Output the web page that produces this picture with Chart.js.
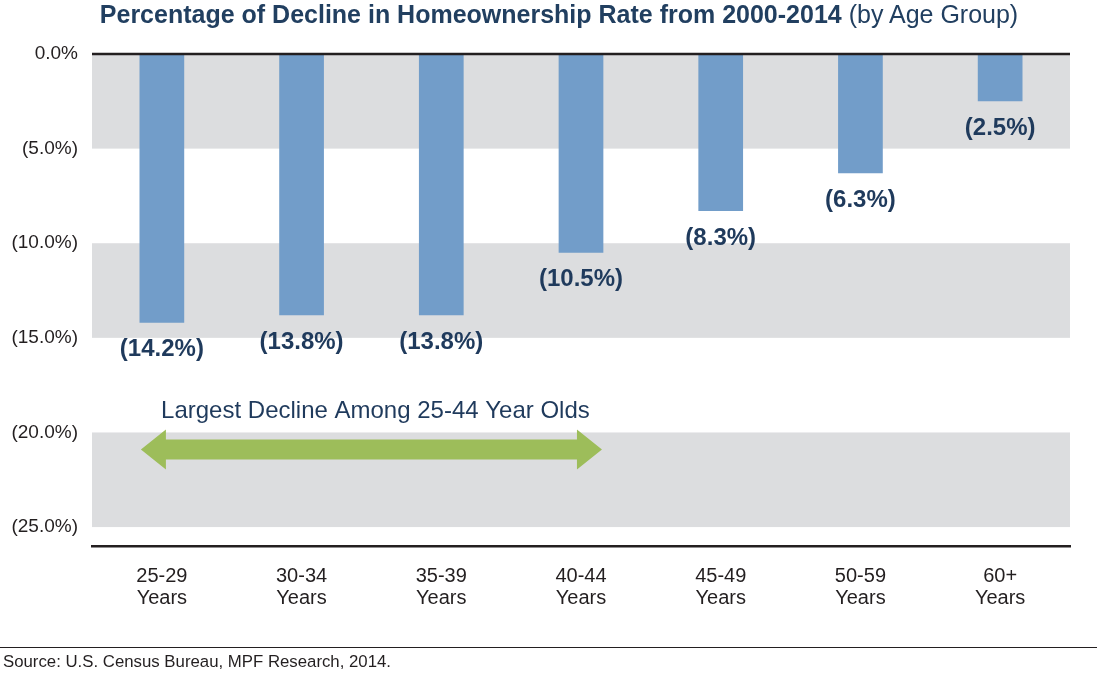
<!DOCTYPE html>
<html>
<head>
<meta charset="utf-8">
<script src="https://cdn.jsdelivr.net/npm/chart.js@4.4.1/dist/chart.umd.min.js"></script>
<style>
  html, body { margin: 0; padding: 0; background: #fff; }
  body { width: 1099px; height: 673px; position: relative; overflow: hidden;
         font-family: "Liberation Sans", Arial, Helvetica, sans-serif; }
  #title { position: absolute; top: -1px; left: 0; width: 1099px; padding-left: 19px; box-sizing: border-box;
           text-align: center; line-height: 30px; font-size: 25px; color: #213f60; white-space: nowrap; }
  #title b { font-weight: bold; }
  #title span { font-weight: normal; }
  #rule { position: absolute; left: 0; top: 647px; width: 1097px; height: 0; border-top: 1.5px solid #231f20; }
  #source { position: absolute; left: 3px; top: 652px; font-size: 16.8px; color: #231f20; line-height: 20px; }
  #wrap { position: absolute; left: 0; top: 0; width: 1099px; height: 673px; }
</style>
</head>
<body>
<div id="wrap"><canvas id="declineChart" width="1099" height="673"></canvas></div>
<div id="title"><b>Percentage of Decline in Homeownership Rate from 2000-2014</b><span> (by Age Group)</span></div>
<div id="rule"></div>
<div id="source">Source: U.S. Census Bureau, MPF Research, 2014.</div>

<script>
// ==================== DATA ====================
const ageGroups = [
  ["25-29", "Years"], ["30-34", "Years"], ["35-39", "Years"], ["40-44", "Years"],
  ["45-49", "Years"], ["50-59", "Years"], ["60+", "Years"]
];
const declines = [-14.2, -13.8, -13.8, -10.5, -8.3, -6.3, -2.5];
const yTicks = [0, -5, -10, -15, -20, -25];
const bands = [[0, -5], [-10, -15], [-20, -25]];
const noteText = "Largest Decline Among 25-44 Year Olds";

const FONT = '"Liberation Sans", Arial, Helvetica, sans-serif';

function fmtPct(v) {
  if (v === 0) return "0.0%";
  return "(" + Math.abs(v).toFixed(1) + "%)";
}

// gray bands behind the bars
const bandPlugin = {
  id: "bands",
  beforeDatasetsDraw(chart) {
    const { ctx, chartArea, scales } = chart;
    ctx.save();
    ctx.fillStyle = "#dcdddf";
    bands.forEach(b => {
      const y1 = scales.y.getPixelForValue(b[0]);
      const y2 = scales.y.getPixelForValue(b[1]);
      ctx.fillRect(chartArea.left, y1, chartArea.right - chartArea.left, y2 - y1);
    });
    ctx.restore();
  }
};

// zero line, value labels, arrow note
const overlayPlugin = {
  id: "overlay",
  afterDatasetsDraw(chart) {
    const { ctx, chartArea, scales } = chart;
    const y0 = scales.y.getPixelForValue(0);
    ctx.save();
    ctx.strokeStyle = "#231f20";
    ctx.lineWidth = 2.5;
    ctx.beginPath();
    ctx.moveTo(chartArea.left, y0);
    ctx.lineTo(chartArea.right, y0);
    ctx.stroke();

    // value labels under each bar
    ctx.fillStyle = "#1f3a5c";
    ctx.font = "bold 24px " + FONT;
    ctx.textAlign = "center";
    ctx.textBaseline = "middle";
    chart.getDatasetMeta(0).data.forEach((bar, i) => {
      ctx.fillText(fmtPct(declines[i]), bar.x, bar.y + 27);
    });

    // double arrow over 25-44 groups
    const xa = scales.x.getPixelForValue(-0.15);
    const xb = scales.x.getPixelForValue(3.15);
    const ya = scales.y.getPixelForValue(-20.9);
    const head = 25, half = 20, shaft = 10;
    ctx.fillStyle = "#9dbd5a";
    ctx.beginPath();
    ctx.moveTo(xa, ya);
    ctx.lineTo(xa + head, ya - half);
    ctx.lineTo(xa + head, ya - shaft);
    ctx.lineTo(xb - head, ya - shaft);
    ctx.lineTo(xb - head, ya - half);
    ctx.lineTo(xb, ya);
    ctx.lineTo(xb - head, ya + half);
    ctx.lineTo(xb - head, ya + shaft);
    ctx.lineTo(xa + head, ya + shaft);
    ctx.lineTo(xa + head, ya + half);
    ctx.closePath();
    ctx.fill();

    ctx.fillStyle = "#1f3a5c";
    ctx.font = "24px " + FONT;
    ctx.fillText(noteText, (xa + xb) / 2 + 4, ya - 38);
    ctx.restore();
  }
};

new Chart(document.getElementById("declineChart"), {
  type: "bar",
  data: {
    labels: ageGroups,
    datasets: [{
      data: declines,
      backgroundColor: "#729dc9",
      borderWidth: 0,
      barPercentage: 0.32,
      categoryPercentage: 1.0
    }]
  },
  options: {
    responsive: false,
    animation: false,
    devicePixelRatio: 1,
    layout: { padding: { top: 54, right: 29, left: 0, bottom: 0 } },
    plugins: { legend: { display: false }, tooltip: { enabled: false }, title: { display: false } },
    scales: {
      x: {
        grid: { display: false, drawTicks: false },
        border: { display: true, color: "#231f20", width: 2.5 },
        ticks: { color: "#231f20", font: { family: FONT, size: 20, lineHeight: 1.1 }, padding: 19, maxRotation: 0, autoSkip: false },
        afterFit(scale) { scale.height = 127; }
      },
      y: {
        min: -26,
        max: 0,
        grid: { display: false, drawTicks: false },
        border: { display: false },
        afterBuildTicks(scale) { scale.ticks = yTicks.map(v => ({ value: v })); },
        ticks: {
          color: "#231f20",
          font: { family: FONT, size: 19 },
          padding: 14,
          callback: v => fmtPct(v)
        },
        afterFit(scale) { scale.width = 92; }
      }
    }
  },
  plugins: [bandPlugin, overlayPlugin]
});
</script>
</body>
</html>
